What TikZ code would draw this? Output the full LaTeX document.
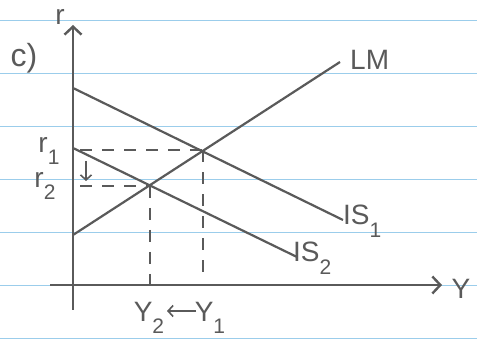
\documentclass[tikz,border=0pt]{standalone}
\usepackage{fontspec}
\setmainfont{Liberation Sans}
\usetikzlibrary{arrows.meta}
\definecolor{ink}{RGB}{90,90,90}
\definecolor{rulecol}{RGB}{155,205,235}
\newcommand\lowsub[1]{\raisebox{-0.45em}{\fontsize{21}{23}\selectfont #1}}
\begin{document}
\begin{tikzpicture}[x=1pt,y=-1pt,
  curve/.style={draw=ink,line width=2.2pt},
  axisline/.style={draw=ink,line width=2.8pt,-{Straight Barb[length=8pt,width=17pt,line width=2.4pt]}},
  guide/.style={draw=ink,line width=2pt,dash pattern=on 12pt off 10pt},
  lbl/.style={text=ink,font=\fontsize{28}{30}\selectfont,inner sep=0pt},
  small arrow/.style={draw=ink,line width=1.8pt,-{Straight Barb[length=5pt,width=11pt,line width=1.6pt]}},
  paperline/.style={draw=rulecol,line width=1pt}]
\useasboundingbox (0,0) rectangle (477,347);
\fill[white] (0,0) rectangle (477,347);
\foreach \yy in {21,74,127,180,233,286,339} \draw[paperline] (0,\yy) -- (477,\yy);
% axes
\coordinate (ybot) at (73,310);
\coordinate (ytop) at (73,25);
\coordinate (xleft) at (50,285);
\coordinate (xright) at (442,285);
\draw[axisline] (ybot) -- (ytop);
\draw[axisline] (xleft) -- (xright);
\node[lbl] (rlab) at (60,17) {r};
\node[lbl] (ylab) at (461,289) {Y};
\node[lbl,font=\fontsize{32}{34}\selectfont] (part) at (24,58) {c)};
% curves
\coordinate (lma) at (73,235);
\coordinate (lmb) at (340,62);
\coordinate (isa) at (73,88);
\coordinate (isb) at (343,220);
\coordinate (isc) at (73,148);
\coordinate (isd) at (297,257);
\draw[curve] (lma) -- (lmb);
\draw[curve] (isa) -- (isb);
\draw[curve] (isc) -- (isd);
\node[lbl,anchor=west] (lmlab) at (350,60) {LM};
\node[lbl,anchor=west] (is1lab) at (343,221) {IS\lowsub{1}};
\node[lbl,anchor=west] (is2lab) at (293,258) {IS\lowsub{2}};
% equilibria
\coordinate (e1) at (203,150.5);
\coordinate (e2) at (150,186);
\coordinate (r1p) at (80,150.5);
\coordinate (r2p) at (80,186);
\coordinate (y1p) at (203,280);
\coordinate (y2p) at (150,292);
\draw[guide] (r1p) -- (e1);
\draw[guide] (r2p) -- (e2);
\draw[guide] (e1) -- (y1p);
\draw[guide] (e2) -- (y2p);
\node[lbl] (r1lab) at (49,151) {r\lowsub{1}};
\node[lbl] (r2lab) at (45,186) {r\lowsub{2}};
\node[lbl] (y2lab) at (149,318) {Y\lowsub{2}};
\node[lbl] (y1lab) at (210,318) {Y\lowsub{1}};
\coordinate (da) at (86,161);
\coordinate (db) at (86,181);
\draw[small arrow] (da) -- (db);
\coordinate (la) at (196,311);
\coordinate (lb) at (167,311);
\draw[small arrow] (la) -- (lb);
\end{tikzpicture}
\end{document}
